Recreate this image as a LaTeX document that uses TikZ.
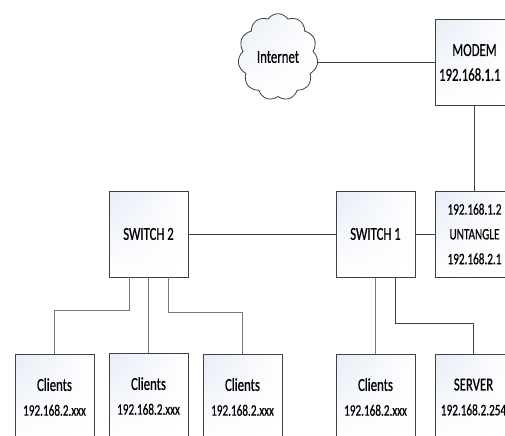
\documentclass[tikz,border=0pt]{standalone}
\usepackage{fontspec}
\setmainfont{Carlito}[FakeStretch=0.7,FakeBold=0.6]
\usetikzlibrary{shapes.symbols,shadings}
\definecolor{boxtint}{HTML}{E6ECF7}
\definecolor{wire}{HTML}{404040}
\newcommand{\ipfont}{\fontsize{12}{18.6}\selectfont}
\tikzset{
	device/.style={draw=wire, line width=0.75pt, rectangle, minimum width=59.25pt, minimum height=64.5pt, inner sep=0pt,
		upper left=boxtint, upper right=white, lower left=white, lower right=white, align=center,
		font=\fontsize{13.7}{18.6}\selectfont},
	wan/.style={draw=wire, line width=0.6pt, cloud, cloud puffs=11, cloud puff arc=115, aspect=0.9, minimum width=60pt, minimum height=65pt, inner sep=0pt,
		upper left=boxtint, upper right=white, lower left=white, lower right=white,
		font=\fontsize{13.7}{18.6}\selectfont},
	wire/.style={draw=wire, line width=0.75pt},
	drop/.style={draw=wire!70, line width=1pt},
}
\begin{document}
\begin{tikzpicture}[x=0.75pt,y=-0.75pt]
	\useasboundingbox (0,0) rectangle (505,435);
	\clip (0,0) rectangle (505,435);
	\coordinate (I) at (278,57);
	\coordinate (M) at (474.5,62.5);
	\coordinate (U) at (474.5,234);
	\coordinate (S_1) at (375.5,234);
	\coordinate (S_2) at (148.5,234);
	\node (Internet) at (I) [wan] {Internet};
	\node (Modem) at (M) [device] {MODEM\\\hspace*{-7pt}192.168.1.1};
	\node (Untangle) at (U) [device] {{\ipfont 192.168.1.2}\\{\ipfont UNTANGLE}\\{\ipfont 192.168.2.1}};
	\node (Switch1) at (S_1) [device] {SWITCH 1};
	\node (Switch2) at (S_2) [device] {SWITCH 2};
	\node (Client1) at (54.5,397) [device] {Clients\\{\ipfont 192.168.2.xxx}};
	\node (Client2) at (148.5,396) [device] {Clients\\{\ipfont 192.168.2.xxx}};
	\node (Client3) at (242.5,397) [device] {Clients\\{\ipfont 192.168.2.xxx}};
	\node (Client4) at (375.5,397) [device] {Clients\\{\ipfont 192.168.2.xxx}};
	\node (Server) at (473.5,397) [device, minimum width=57.75pt] {SERVER\\{\ipfont 192.168.2.254}};
	\coordinate (P_1) at (129.5,277);
	\coordinate (P_2) at (168.5,277);
	\coordinate (P_3) at (395.5,277);
	\coordinate (K_1) at (129.5,310.5);
	\coordinate (K_2) at (168.5,312.5);
	\coordinate (K_3) at (395.5,323.5);
	\draw [wire] (Internet.-7 |- Modem.west)--(Modem.west) (Modem)--(Untangle) (Switch1)--(Untangle) (Switch2)--(Switch1);
	\draw [drop] (P_1)--(K_1)-|(Client1) (P_2)--(K_2)-|(Client3) (Switch2)--(Client2) (Switch1)--(Client4);
	\draw [wire] (P_3)--(K_3)-|(Server);
\end{tikzpicture}
\end{document}
